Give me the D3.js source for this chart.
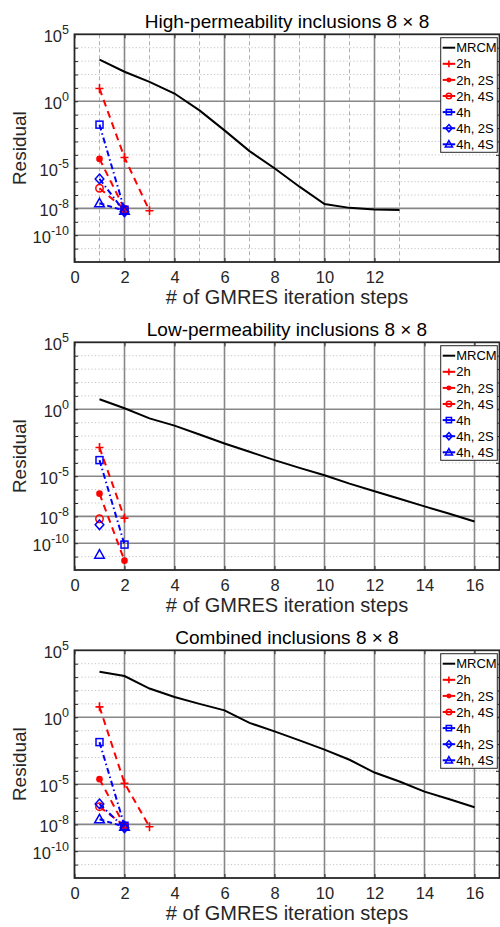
<!DOCTYPE html>
<html>
<head>
<meta charset="utf-8">
<script src="https://cdn.jsdelivr.net/npm/d3@7"></script>
<style>
  body { margin: 0; background: #fff; }
  svg { display: block; font-family: "Liberation Sans", Arial, Helvetica, sans-serif; }
</style>
</head>
<body>
<svg id="chart" width="500" height="927"></svg>
<script>
//########## begin   data   #######

const seriesNames = ["MRCM", "2h", "2h, 2S", "2h, 4S", "4h", "4h, 2S", "4h, 4S"];
const panelTitles = [
  "High-permeability inclusions 8 \u00d7 8",
  "Low-permeability inclusions 8 \u00d7 8",
  "Combined inclusions 8 \u00d7 8"
];

// GMRES iteration steps
const steps13 = [1, 2, 3, 4, 5, 6, 7, 8, 9, 10, 11, 12, 13];
const steps16 = [1, 2, 3, 4, 5, 6, 7, 8, 9, 10, 11, 12, 13, 14, 15, 16];
const steps3 = [1, 2, 3];
const steps2 = [1, 2];
const steps1 = [1];

// high-permeability residuals
const highMRCM = [1.3e3, 1.6e2, 2.8e1, 3.8, 2.1e-1, 6.7e-3, 1.9e-4, 1.0e-5, 4.2e-7, 2.1e-8, 1.1e-8, 8.4e-9, 7.5e-9];
const high2h = [8.9, 6.3e-5, 6.7e-9];
const high2h2S = [5.0e-5, 8.9e-9];
const high2h4S = [3.2e-7, 8.9e-9];
const high4h = [1.8e-2, 7.9e-9];
const high4h2S = [1.6e-6, 5.6e-9];
const high4h4S = [2.4e-8, 6.7e-9];

// low-permeability residuals
const lowMRCM = [5.6, 1.2, 2.1e-1, 6.0e-2, 1.3e-2, 2.8e-3, 6.7e-4, 1.6e-4, 4.2e-5, 1.2e-5, 2.8e-6, 7.5e-7, 2.1e-7, 5.6e-8, 1.6e-8, 4.2e-9];
const low2h = [1.4e-3, 7.5e-9];
const low2h2S = [5.0e-7, 5.0e-12];
const low2h4S = [6.7e-9];
const low4h = [1.6e-4, 7.9e-11];
const low4h2S = [2.4e-9];
const low4h4S = [1.4e-11];

// combined residuals
const combMRCM = [2.5e3, 1.2e3, 1.4e2, 3.3e1, 1.0e1, 3.3, 3.8e-1, 8.9e-2, 1.9e-2, 3.8e-3, 6.7e-4, 7.5e-5, 1.6e-5, 2.8e-6, 7.5e-7, 1.9e-7];
const comb2h = [6.0, 1.2e-5, 6.7e-9];
const comb2h2S = [2.4e-5, 7.9e-9];
const comb2h4S = [2.1e-7, 7.9e-9];
const comb4h = [1.4e-2, 7.9e-9];
const comb4h2S = [3.4e-7, 5.6e-9];
const comb4h4S = [2.4e-8, 6.7e-9];

// axis ticks
const xTicksHigh = [0, 2, 4, 6, 8, 10, 12];
const xTicksLong = [0, 2, 4, 6, 8, 10, 12, 14, 16];
const xDashedHigh = [1, 3, 5, 7, 9, 11, 13];
const yMajorExp = [-10, -8, -5, 0, 5];
const yDecadeExp = [-11, -10, -9, -8, -7, -6, -5, -4, -3, -2, -1, 0, 1, 2, 3, 4];

//########## end   data   #######

const seriesStyle = [
  { color: "#000000", dash: null, marker: null, width: 2 },
  { color: "#ff0000", dash: "7,5", marker: "plus", width: 2 },
  { color: "#ff0000", dash: "7,5", marker: "dot", width: 2 },
  { color: "#ff0000", dash: "7,5", marker: "circle", width: 2 },
  { color: "#0000ff", dash: "6,3,1.5,3", marker: "square", width: 2 },
  { color: "#0000ff", dash: "6,3,1.5,3", marker: "diamond", width: 2 },
  { color: "#0000ff", dash: "5,3", marker: "triangle", width: 2 }
];

const panels = [
  {
    top: 34.3,
    xTicks: xTicksHigh,
    dashed: xDashedHigh,
    series: [
      [steps13, highMRCM], [steps3, high2h], [steps2, high2h2S], [steps2, high2h4S],
      [steps2, high4h], [steps2, high4h2S], [steps2, high4h4S]
    ]
  },
  {
    top: 342.3,
    xTicks: xTicksLong,
    dashed: [],
    series: [
      [steps16, lowMRCM], [steps2, low2h], [steps2, low2h2S], [steps1, low2h4S],
      [steps2, low4h], [steps1, low4h2S], [steps1, low4h4S]
    ]
  },
  {
    top: 650.3,
    xTicks: xTicksLong,
    dashed: [],
    series: [
      [steps16, combMRCM], [steps3, comb2h], [steps2, comb2h2S], [steps2, comb2h4S],
      [steps2, comb4h], [steps2, comb4h2S], [steps2, comb4h4S]
    ]
  }
];

const svg = d3.select("#chart");
const textColor = "#262626";
const plotLeft = 74.5, plotRight = 499.5, plotH = 227.7;
const x = d3.scaleLinear().domain([0, 17]).range([plotLeft, plotRight]);

function drawMarker(g, type, color, scale) {
  const s = scale || 1;
  if (type === "plus") {
    g.append("path").attr("d", `M${-4 * s},0H${4 * s}M0,${-4.5 * s}V${4.5 * s}`)
      .attr("stroke", color).attr("stroke-width", 1.6).attr("fill", "none");
  } else if (type === "dot") {
    g.append("circle").attr("r", 3.3 * s).attr("fill", color);
  } else if (type === "circle") {
    g.append("circle").attr("r", 3.7 * s).attr("fill", "none")
      .attr("stroke", color).attr("stroke-width", 1.5);
  } else if (type === "square") {
    g.append("rect").attr("x", -3.5 * s).attr("y", -3.5 * s)
      .attr("width", 7 * s).attr("height", 7 * s)
      .attr("fill", "none").attr("stroke", color).attr("stroke-width", 1.5);
  } else if (type === "diamond") {
    g.append("path").attr("d", `M0,${-4.8 * s}L${4.3 * s},0L0,${4.8 * s}L${-4.3 * s},0Z`)
      .attr("fill", "none").attr("stroke", color).attr("stroke-width", 1.5);
  } else if (type === "triangle") {
    g.append("path").attr("d", `M0,${-5 * s}L${4.8 * s},${3.5 * s}L${-4.8 * s},${3.5 * s}Z`)
      .attr("fill", "none").attr("stroke", color).attr("stroke-width", 1.5);
  }
}

function drawPanel(p, idx) {
  const top = p.top, bottom = top + plotH;
  const y = d3.scaleLog().domain([1e-12, 1e5]).range([bottom, top]);
  const g = svg.append("g");

  // minor dotted grid at each decade
  g.append("g").selectAll("line")
    .data(yDecadeExp.filter((e) => !yMajorExp.includes(e)))
    .enter().append("line")
    .attr("x1", plotLeft).attr("x2", plotRight)
    .attr("y1", (e) => y(Math.pow(10, e))).attr("y2", (e) => y(Math.pow(10, e)))
    .attr("stroke", "#c4c4c4").attr("stroke-width", 1).attr("stroke-dasharray", "1.2,2.2");

  // dashed vertical lines at odd steps (panel 1)
  g.append("g").selectAll("line")
    .data(p.dashed)
    .enter().append("line")
    .attr("x1", (d) => x(d)).attr("x2", (d) => x(d))
    .attr("y1", top).attr("y2", bottom)
    .attr("stroke", "#b0b0b0").attr("stroke-width", 1).attr("stroke-dasharray", "4,3");

  // major grid
  g.append("g").selectAll("line")
    .data(yMajorExp.filter((e) => e < 5))
    .enter().append("line")
    .attr("x1", plotLeft).attr("x2", plotRight)
    .attr("y1", (e) => y(Math.pow(10, e))).attr("y2", (e) => y(Math.pow(10, e)))
    .attr("stroke", "#878787").attr("stroke-width", 1.6);
  g.append("g").selectAll("line")
    .data(p.xTicks.filter((d) => d > 0))
    .enter().append("line")
    .attr("x1", (d) => x(d)).attr("x2", (d) => x(d))
    .attr("y1", top).attr("y2", bottom)
    .attr("stroke", "#878787").attr("stroke-width", 1.6);

  // data lines
  const line = d3.line().x((d) => x(d[0])).y((d) => y(d[1]));
  p.series.forEach(([xs, ys], i) => {
    const st = seriesStyle[i];
    const pts = xs.map((v, k) => [v, ys[k]]);
    if (pts.length > 1) {
      g.append("path").datum(pts)
        .attr("d", line)
        .attr("fill", "none")
        .attr("stroke", st.color)
        .attr("stroke-width", st.width)
        .attr("stroke-dasharray", st.dash);
    }
    if (st.marker) {
      pts.forEach((pt) => {
        const m = g.append("g").attr("transform", `translate(${x(pt[0])},${y(pt[1])})`);
        drawMarker(m, st.marker, st.color);
      });
    }
  });

  // axes: bottom/top ticks inward
  const xAxis = d3.axisBottom(x).tickValues(p.xTicks).tickSize(-4).tickPadding(9).tickSizeOuter(0);
  const gx = g.append("g").attr("transform", `translate(0,${bottom})`).call(xAxis);
  gx.select(".domain").remove();
  gx.selectAll("line").attr("stroke", textColor).attr("stroke-width", 1);
  gx.selectAll("text").attr("fill", textColor).style("font-size", "16.5px");

  const gxt = g.append("g").attr("transform", `translate(0,${top})`)
    .call(d3.axisTop(x).tickValues(p.xTicks).tickSize(-4).tickFormat(""));
  gxt.select(".domain").remove();
  gxt.selectAll("line").attr("stroke", textColor).attr("stroke-width", 1);

  // y minor ticks left & right
  const decadeVals = yDecadeExp.map((e) => Math.pow(10, e));
  const gyl = g.append("g").attr("transform", `translate(${plotLeft},0)`)
    .call(d3.axisLeft(y).tickValues(decadeVals).tickSize(-3.5).tickFormat(""));
  const gyr = g.append("g").attr("transform", `translate(${plotRight},0)`)
    .call(d3.axisRight(y).tickValues(decadeVals).tickSize(-3.5).tickFormat(""));
  [gyl, gyr].forEach((a) => {
    a.select(".domain").remove();
    a.selectAll("line").attr("stroke", textColor).attr("stroke-width", 1);
  });

  // y tick labels 10^e
  const labels = g.append("g").selectAll("text")
    .data(yMajorExp)
    .enter().append("text")
    .attr("x", 69)
    .attr("y", (e) => y(Math.pow(10, e)) + 7.5)
    .attr("text-anchor", "end")
    .attr("fill", textColor)
    .style("font-size", "16.5px");
  labels.append("tspan").text("10");
  labels.append("tspan").attr("dy", -7.5).style("font-size", "12.5px").text((e) => String(e));

  // box
  g.append("rect")
    .attr("x", plotLeft).attr("y", top)
    .attr("width", plotRight - plotLeft).attr("height", plotH)
    .attr("fill", "none").attr("stroke", textColor).attr("stroke-width", 1.8);

  // title & labels
  const cx = (plotLeft + plotRight) / 2;
  g.append("text").attr("x", cx).attr("y", top - 6.5)
    .attr("text-anchor", "middle").attr("fill", "#000")
    .style("font-size", "19px").text(panelTitles[idx]);
  g.append("text").attr("x", cx).attr("y", top + 270)
    .attr("text-anchor", "middle").attr("fill", textColor)
    .style("font-size", "20px").text("# of GMRES iteration steps");
  g.append("text")
    .attr("transform", `translate(25.5,${top + plotH / 2}) rotate(-90)`)
    .attr("text-anchor", "middle").attr("fill", textColor)
    .style("font-size", "19px").text("Residual");

  // legend
  const lx = 440.7, ly = top + 3.4;
  const lg = g.append("g");
  lg.append("rect").attr("x", lx).attr("y", ly).attr("width", 56.6).attr("height", 114.6)
    .attr("fill", "#fff").attr("stroke", textColor).attr("stroke-width", 1);
  seriesNames.forEach((name, i) => {
    const st = seriesStyle[i];
    const yy = ly + 10 + i * 16.1;
    lg.append("line").attr("x1", lx + 2).attr("x2", lx + 14.5).attr("y1", yy).attr("y2", yy)
      .attr("stroke", st.color).attr("stroke-width", st.width);
    if (st.marker) {
      const m = lg.append("g").attr("transform", `translate(${lx + 8.2},${yy})`);
      drawMarker(m, st.marker, st.color, 0.75);
    }
    lg.append("text").attr("x", lx + 15.5).attr("y", yy).attr("dy", "0.36em")
      .attr("fill", "#000").style("font-size", "13px").text(name);
  });
}

panels.forEach(drawPanel);
</script>
</body>
</html>
